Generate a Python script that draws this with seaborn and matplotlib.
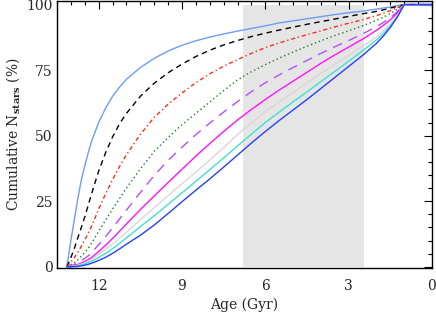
import matplotlib
matplotlib.use("Agg")
import matplotlib.pyplot as plt
from matplotlib.ticker import MultipleLocator
import seaborn as sns
import pandas as pd

ages = [13.15, 13.1, 13.0, 12.875, 12.75, 12.625, 12.5, 12.375, 12.25, 12.0,
        11.75, 11.5, 11.25, 11.0, 10.5, 10.0, 9.5, 9.0, 8.5, 8.0,
        7.5, 7.0, 6.5, 6.0, 5.5, 5.0, 4.5, 4.0, 3.5, 3.0,
        2.5, 2.0, 1.75, 1.5, 1.25, 1.0, 0.0]

lightblue = [0, 3, 10, 18, 26, 33, 38.5, 43.5, 48, 55,
             60.5, 65, 68.5, 71.5, 76, 79.5, 82.3, 84.5, 86.2, 87.6,
             88.8, 89.9, 90.9, 91.9, 93.0, 93.8, 94.6, 95.4, 96.2, 96.9,
             97.5, 98.3, 98.7, 99.1, 99.6, 100, 100]
black = [0, 1, 3.5, 7, 11, 15, 19, 23.5, 28, 36.5,
         43.5, 49.5, 54.5, 58.5, 65, 70, 74, 77.3, 80.2, 82.6,
         84.6, 86.3, 87.8, 89.1, 90.3, 91.4, 92.5, 93.5, 94.5, 95.5,
         96.5, 97.4, 98, 98.7, 99.3, 100, 100]
red = [0, 0.5, 1.8, 3.5, 5.5, 7.8, 10.2, 12.8, 15.5, 22,
       27.8, 33.2, 38.2, 42.7, 50.5, 57, 62, 66.3, 70.2, 73.6,
       76.5, 79, 81.4, 83.6, 85.4, 87, 88.5, 90, 91.5, 92.9,
       94.2, 95.8, 96.7, 97.7, 98.8, 100, 100]
green = [0, 0.2, 0.8, 1.6, 2.7, 4, 5.4, 7.1, 9, 13.5,
         17.8, 22, 26, 30, 37.3, 44, 49.3, 54.2, 58.5, 62.8,
         67.2, 71.3, 74.4, 77.1, 79.6, 81.9, 84.1, 86.2, 88.2, 90,
         91.9, 94, 95.2, 96.6, 98.2, 100, 100]
purple = [0, 0.1, 0.4, 0.9, 1.5, 2.3, 3.2, 4.2, 5.4, 8.4,
          11.5, 14.8, 18.2, 21.6, 28.3, 34.8, 40.6, 45.6, 50.4, 54.8,
          59, 63, 66.8, 70.2, 73.2, 76, 78.7, 81.4, 83.9, 86.3,
          88.8, 91.6, 93.2, 95, 97.3, 100, 100]
magenta = [0, 0, 0.2, 0.5, 0.9, 1.4, 2, 2.7, 3.5, 5.8,
           8.2, 10.8, 13.5, 16.3, 21.8, 27, 32.1, 37.2, 42.2, 47,
           51.6, 56, 60, 63.8, 67.4, 70.8, 74.2, 77.6, 80.8, 83.8,
           86.8, 90.2, 92.1, 94.2, 96.8, 100, 100]
gray = [0, 0, 0.1, 0.3, 0.6, 1, 1.5, 2.1, 2.8, 4.8,
        6.6, 8.7, 10.9, 13.2, 17.9, 22.5, 27.1, 31.7, 36.1, 40.7,
        45.5, 50.4, 54.9, 59.1, 62.9, 66.5, 70.1, 73.8, 77.2, 80.6,
        84.0, 87.7, 89.9, 92.6, 95.8, 100, 100]
turquoise = [0, 0, 0.05, 0.2, 0.4, 0.7, 1.1, 1.6, 2.1, 3.5,
             5.1, 6.9, 8.9, 11, 15.3, 19.4, 23.8, 28.2, 32.6, 37,
             41.5, 46.1, 50.6, 55, 59, 62.9, 66.7, 70.6, 74.5, 78.4,
             82.4, 86.5, 88.9, 91.8, 95.4, 100, 100]
blue = [0, 0, 0, 0.05, 0.15, 0.35, 0.6, 0.95, 1.35, 2.4,
        3.6, 5.1, 6.8, 8.6, 12, 15.9, 20.3, 24.8, 29.2, 33.5,
        38, 42.6, 47.2, 51.6, 55.8, 59.8, 63.8, 68.0, 72.2, 76.4,
        80.6, 85.2, 88, 91.3, 95.2, 100, 100]

shade_range = [6.8, 2.45]

series = [
    ("lightblue", lightblue, "#6e9cf2", "-"),
    ("black", black, "#000000", (0, (4, 3))),
    ("red", red, "#ff2a1a", (0, (3, 2, 1, 2))),
    ("green", green, "#1f7a1f", (0, (1, 2))),
    ("purple", purple, "#b050ff", (0, (7, 5))),
    ("magenta", magenta, "#ff10ff", "-"),
    ("gray", gray, "#d8d8d8", "-"),
    ("turquoise", turquoise, "#40e0d0", "-"),
    ("blue", blue, "#2540ff", "-"),
]

sns.set_style("white")
plt.rcParams["font.family"] = ["DejaVu Serif", "DejaVu Sans"]
plt.rcParams["mathtext.fontset"] = "dejavuserif"

fig = plt.figure(figsize=(4.36, 3.12), dpi=100)
ax = fig.add_axes([0.1307, 0.140, 0.8601, 0.857])

ax.fill_between(shade_range, 0, 100, color="#e5e5e5", lw=0, zorder=0)

for name, vals, col, ls in series:
    df = pd.DataFrame({"age": ages, "val": vals})
    sns.lineplot(data=df, x="age", y="val", ax=ax, color=col, linestyle=ls,
                 lw=1.0, sort=False, estimator=None)

ax.set_xlim(13.5, 0)
ax.set_ylim(-0.6, 101.4)
ax.xaxis.set_major_locator(MultipleLocator(3))
ax.xaxis.set_minor_locator(MultipleLocator(0.5))
ax.yaxis.set_major_locator(MultipleLocator(25))
ax.yaxis.set_minor_locator(MultipleLocator(5))
ax.tick_params(which="both", direction="in", top=True, right=True, labelsize=10, width=0.8, color="black")
ax.tick_params(which="major", length=6)
ax.tick_params(which="minor", length=3)
ax.tick_params(axis="x", which="major", pad=8)
ax.tick_params(axis="y", which="major", pad=3)
for s in ax.spines.values():
    s.set_linewidth(1.0)
    s.set_color("black")
ax.set_xlabel("Age (Gyr)", fontsize=10, labelpad=3)
ax.set_ylabel(r"Cumulative N$_{\bf stars}$ (%)", fontsize=10, labelpad=3)

fig.savefig("out.png", dpi=100)
